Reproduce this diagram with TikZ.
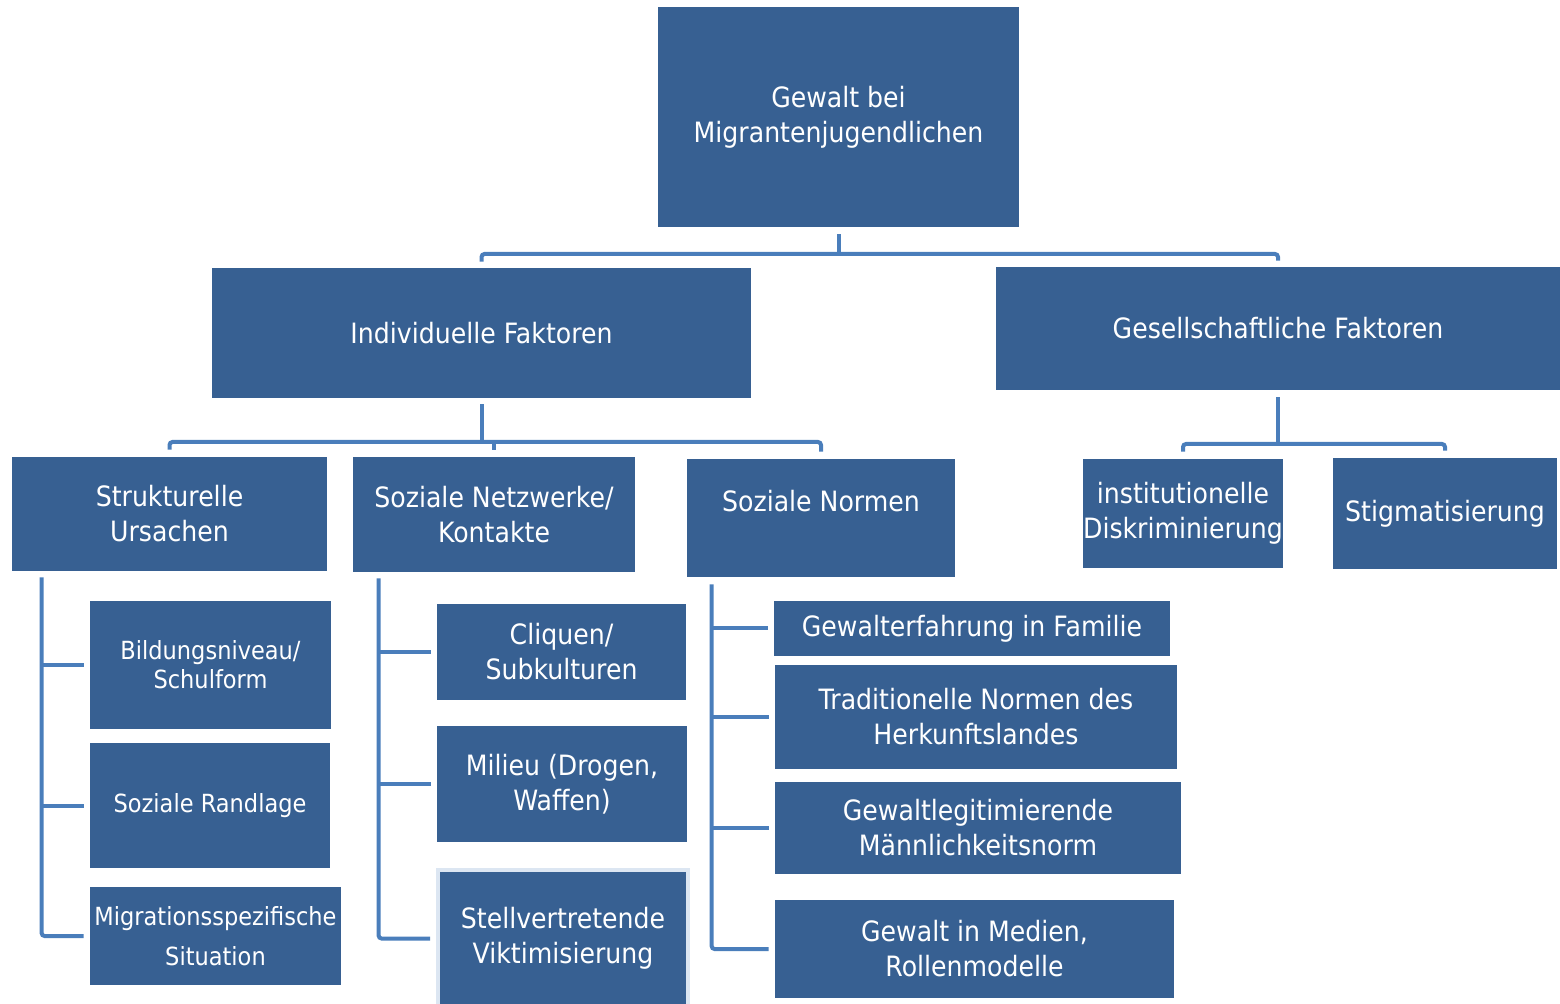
\documentclass[tikz,border=0pt]{standalone}
\usepackage{fontspec}
\setmainfont[FakeStretch=0.9]{DejaVu Sans}
\usepackage{tikz}
\usetikzlibrary{calc}

\definecolor{boxblue}{HTML}{376092}
\definecolor{linkblue}{HTML}{4A7EBB}
\definecolor{haloblue}{HTML}{DCE6F2}

\tikzset{
  factor/.style 2 args={rectangle, fill=boxblue, text=white, inner sep=0pt,
    align=center, minimum width=#1, minimum height=#2,
    font=\fontsize{14}{17.5}\selectfont},
  small/.style={font=\fontsize{12.5}{14.5}\selectfont},
  link/.style={draw=linkblue, line width=2pt, rounded corners=1.5pt}
}

\begin{document}
\begin{tikzpicture}[x=0.5pt, y=0.5pt]
	\useasboundingbox (0,0) rectangle (1560,1003);
	\clip (0,0) rectangle (1560,1003);

	% main levels
	\node[factor={180.5pt}{110pt}] (gewalt) at (838.5,886) {Gewalt bei\\Migrantenjugendlichen};
	\node[factor={269.5pt}{65pt}] (indiv) at (481.5,670) {Individuelle Faktoren};
	\node[factor={282pt}{61.5pt}] (gesell) at (1278,674.5) {Gesellschaftliche Faktoren};

	\node[factor={157.5pt}{57pt}] (struk) at (169.5,489) {Strukturelle\\Ursachen};
	\node[factor={141pt}{57.5pt}] (netz) at (494,488.5) {Soziale Netzwerke/\\Kontakte};
	\node[factor={134pt}{59pt}] (normen) at (821,485) {Soziale Normen\\\mbox{}};
	\node[factor={99pt}{54.5pt}] (inst) at (1183,489.5) {institutionelle\\Diskriminierung};
	\node[factor={112pt}{55.5pt}] (stigma) at (1445,489.5) {Stigmatisierung};

	% column 1
	\node[factor={120.5pt}{64pt}, small] (bild) at (210.5,338) {Bildungsniveau/\\Schulform};
	\node[factor={120pt}{62.5pt}, small] (rand) at (210,197.5) {Soziale Randlage};
	\node[factor={125.5pt}{49pt}, small, font=\fontsize{12.5}{20}\selectfont] (migr) at (215.5,67) {Migrationsspezifische\\Situation};

	% column 2
	\node[factor={124.5pt}{48pt}] (cliq) at (561.5,351) {Cliquen/\\Subkulturen};
	\node[factor={125pt}{58pt}] (milieu) at (562,219) {Milieu (Drogen,\\Waffen)};
	\node[factor={125pt}{68.5pt}, draw=haloblue, line width=2pt] (stell) at (563,64.5) {Stellvertretende\\Viktimisierung};

	% column 3
	\node[factor={198pt}{27.5pt}] (famil) at (972,374.5) {Gewalterfahrung in Familie};
	\node[factor={201pt}{52pt}] (trad) at (976,286) {Traditionelle Normen des\\Herkunftslandes};
	\node[factor={203pt}{46pt}] (mann) at (978,175) {Gewaltlegitimierende\\Männlichkeitsnorm};
	\node[factor={199.5pt}{49pt}] (medien) at (974.5,54) {Gewalt in Medien,\\Rollenmodelle};

	% tree connectors
	\coordinate (bar0) at (0,749);
	\coordinate (bar1) at (0,561);
	\coordinate (bar2) at (0,559);

	\draw[link] ([yshift=-3.5pt]gewalt.south) -- (gewalt.south |- bar0);
	\draw[link] ([yshift=3pt]indiv.north) -- (indiv.north |- bar0)
		-- (gesell.north |- bar0) -- ([yshift=3pt]gesell.north);

	\draw[link] ([yshift=-3pt]indiv.south) -- (indiv.south |- bar1);
	\draw[link] ([yshift=3.5pt]struk.north) -- (struk.north |- bar1)
		-- (normen.north |- bar1) -- ([yshift=3.5pt]normen.north);
	\draw[link] ([yshift=3.5pt]netz.north) -- (netz.north |- bar1);

	\draw[link] ([yshift=-3.5pt]gesell.south) -- (gesell.south |- bar2);
	\draw[link] ([yshift=3.5pt]inst.north) -- (inst.north |- bar2)
		-- (stigma.north |- bar2) -- ([yshift=3.5pt]stigma.north);

	% side connectors
	\coordinate (col1) at ([xshift=15pt,yshift=-3pt]struk.south west);
	\coordinate (col2) at ([xshift=13pt,yshift=-3pt]netz.south west);
	\coordinate (col3) at ([xshift=12.5pt,yshift=-3.5pt]normen.south west);

	\draw[link] (col1) |- ([xshift=-3pt]migr.west);
	\foreach \kid in {bild, rand}
		\draw[link] (col1 |- \kid.west) -- ([xshift=-3pt]\kid.west);

	\draw[link] (col2) |- ([xshift=-3pt]stell.west);
	\foreach \kid in {cliq, milieu}
		\draw[link] (col2 |- \kid.west) -- ([xshift=-3pt]\kid.west);

	\draw[link] (col3) |- ([xshift=-3pt]medien.west);
	\foreach \kid in {famil, trad, mann}
		\draw[link] (col3 |- \kid.west) -- ([xshift=-3pt]\kid.west);
\end{tikzpicture}
\end{document}
